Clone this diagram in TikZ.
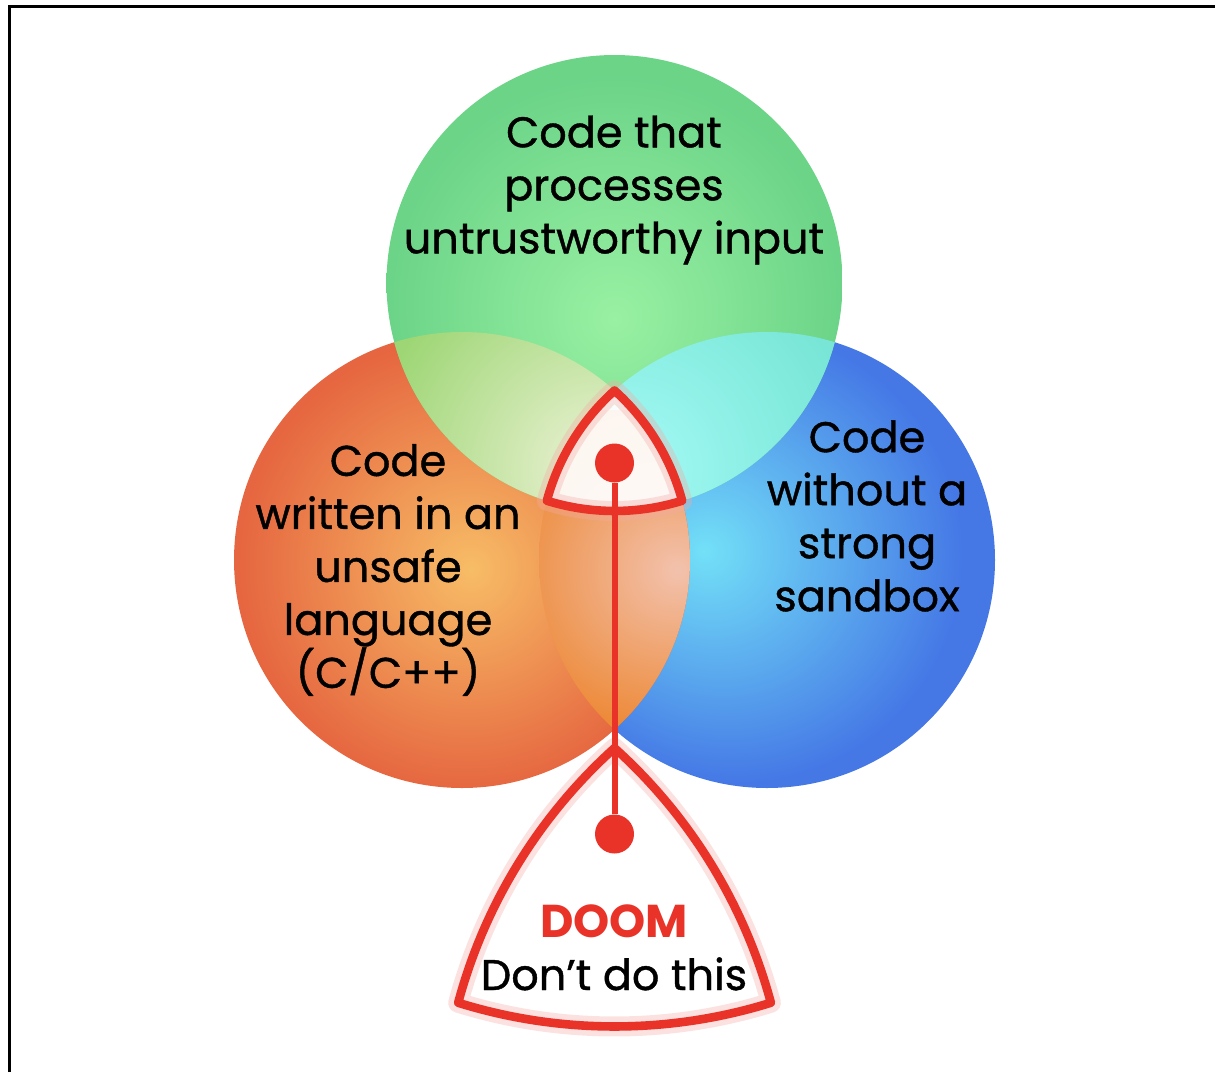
\documentclass[tikz,border=0pt]{standalone}
\usepackage{fontspec}
\setmainfont{Poppins}
\newfontfamily\medfont{Poppins}[FakeBold=0.9]
\definecolor{doomred}{RGB}{233,50,40}
\definecolor{doomglow}{RGB}{244,170,165}
\pgfdeclareradialshading{gshade}{\pgfpoint{0bp}{-4bp}}{rgb(0bp)=(0.60,0.945,0.64); rgb(25bp)=(0.42,0.83,0.53); rgb(50bp)=(0.42,0.83,0.53)}
\pgfdeclareradialshading{oshade}{\pgfpoint{1bp}{-1bp}}{rgb(0bp)=(0.97,0.74,0.40); rgb(25bp)=(0.90,0.40,0.25); rgb(50bp)=(0.90,0.40,0.25)}
\pgfdeclareradialshading{bshade}{\pgfpoint{-7bp}{1bp}}{rgb(0bp)=(0.45,0.88,0.97); rgb(25bp)=(0.27,0.47,0.90); rgb(50bp)=(0.27,0.47,0.90)}
\pgfdeclareradialshading{goshade}{\pgfpoint{0bp}{0bp}}{rgb(0bp)=(0.93,0.95,0.84); rgb(25bp)=(0.62,0.84,0.46); rgb(50bp)=(0.62,0.84,0.46)}
\pgfdeclareradialshading{gbshade}{\pgfpoint{0bp}{0bp}}{rgb(0bp)=(0.64,0.98,0.96); rgb(25bp)=(0.47,0.90,0.84); rgb(50bp)=(0.47,0.90,0.84)}
\pgfdeclareradialshading{obshade}{\pgfpoint{6bp}{0bp}}{rgb(0bp)=(0.95,0.76,0.68); rgb(25bp)=(0.93,0.54,0.22); rgb(50bp)=(0.93,0.54,0.22)}
\tikzset{
  redline/.style={draw=doomred, line width=4.3pt, line join=round},
  glowline/.style={draw=doomglow, line width=10pt, opacity=0.35, line join=round},
  reddot/.style={circle, fill=doomred, minimum size=19.5pt, inner sep=0pt},
  lbl/.style={align=center, font=\fontsize{21.5}{26.5}\selectfont\medfont, text=black, inner sep=0pt},
  frame/.style={draw=black, line width=1.5pt}
}
\begin{document}
\begin{tikzpicture}[x=0.5pt, y=-0.5pt]
\useasboundingbox (0,0) rectangle (1215,1072);
% frame (left and top edges)
\coordinate (fa) at (9,1072);
\coordinate (fb) at (9,6);
\coordinate (fc) at (1215,6);
\draw[frame] (fa) -- (fb) -- (fc);
% circle centres
\coordinate (G) at (614.5,283);
\coordinate (O) at (462,560);
\coordinate (B) at (767,560);
% base circles
\shade[shading=bshade] (B) circle[radius=228];
\shade[shading=oshade] (O) circle[radius=228];
\shade[shading=gshade] (G) circle[radius=228];
% overlaps
\begin{scope}
  \clip (G) circle[radius=228];
  \clip (O) circle[radius=228];
  \shade[shading=goshade] (370,240) rectangle (830,700);
\end{scope}
\begin{scope}
  \clip (G) circle[radius=228];
  \clip (B) circle[radius=228];
  \shade[shading=gbshade] (400,240) rectangle (860,700);
\end{scope}
\begin{scope}
  \clip (O) circle[radius=228];
  \clip (B) circle[radius=228];
  \shade[shading=obshade] (480,410) rectangle (800,730);
\end{scope}
% triple intersection
\path[fill=white, fill opacity=0.93] (614.5,390.5) arc[start angle=-48.02, end angle=-15.07, radius=228] arc[start angle=72.74, end angle=107.26, radius=228] arc[start angle=195.07, end angle=228.02, radius=228] -- cycle;
\draw[glowline] (614.5,390.5) arc[start angle=-48.02, end angle=-15.07, radius=228] arc[start angle=72.74, end angle=107.26, radius=228] arc[start angle=195.07, end angle=228.02, radius=228] -- cycle;
\draw[redline] (614.5,390.5) arc[start angle=-48.02, end angle=-15.07, radius=228] arc[start angle=72.74, end angle=107.26, radius=228] arc[start angle=195.07, end angle=228.02, radius=228] -- cycle;
% DOOM shape
\draw[glowline, fill=white] (614.5,748) arc[start angle=-48.02, end angle=-15.07, radius=527] arc[start angle=72.74, end angle=107.26, radius=527] arc[start angle=195.07, end angle=228.02, radius=527] -- cycle;
\draw[redline] (614.5,748) arc[start angle=-48.02, end angle=-15.07, radius=527] arc[start angle=72.74, end angle=107.26, radius=527] arc[start angle=195.07, end angle=228.02, radius=527] -- cycle;
% dots and connector
\node[reddot] (d1) at (614.5,463) {};
\node[reddot] (d2) at (614.5,834) {};
\draw[draw=doomred, line width=3pt] (d1) -- (d2);
% labels
\node[lbl] (tg) at (614,190) {Code that\\processes\\untrustworthy input};
\node[lbl] (to) at (388,570) {Code\\written in an\\unsafe\\language\\(C/C++)};
\node[lbl] (tb) at (867,516) {Code\\without a\\strong\\sandbox};
\node[lbl, anchor=base, text=doomred, font=\fontsize{23}{26.5}\selectfont\bfseries] (doom) at (614,937) {DOOM};
\node[lbl, anchor=base] (dont) at (614,990) {Don’t do this};
\end{tikzpicture}
\end{document}
